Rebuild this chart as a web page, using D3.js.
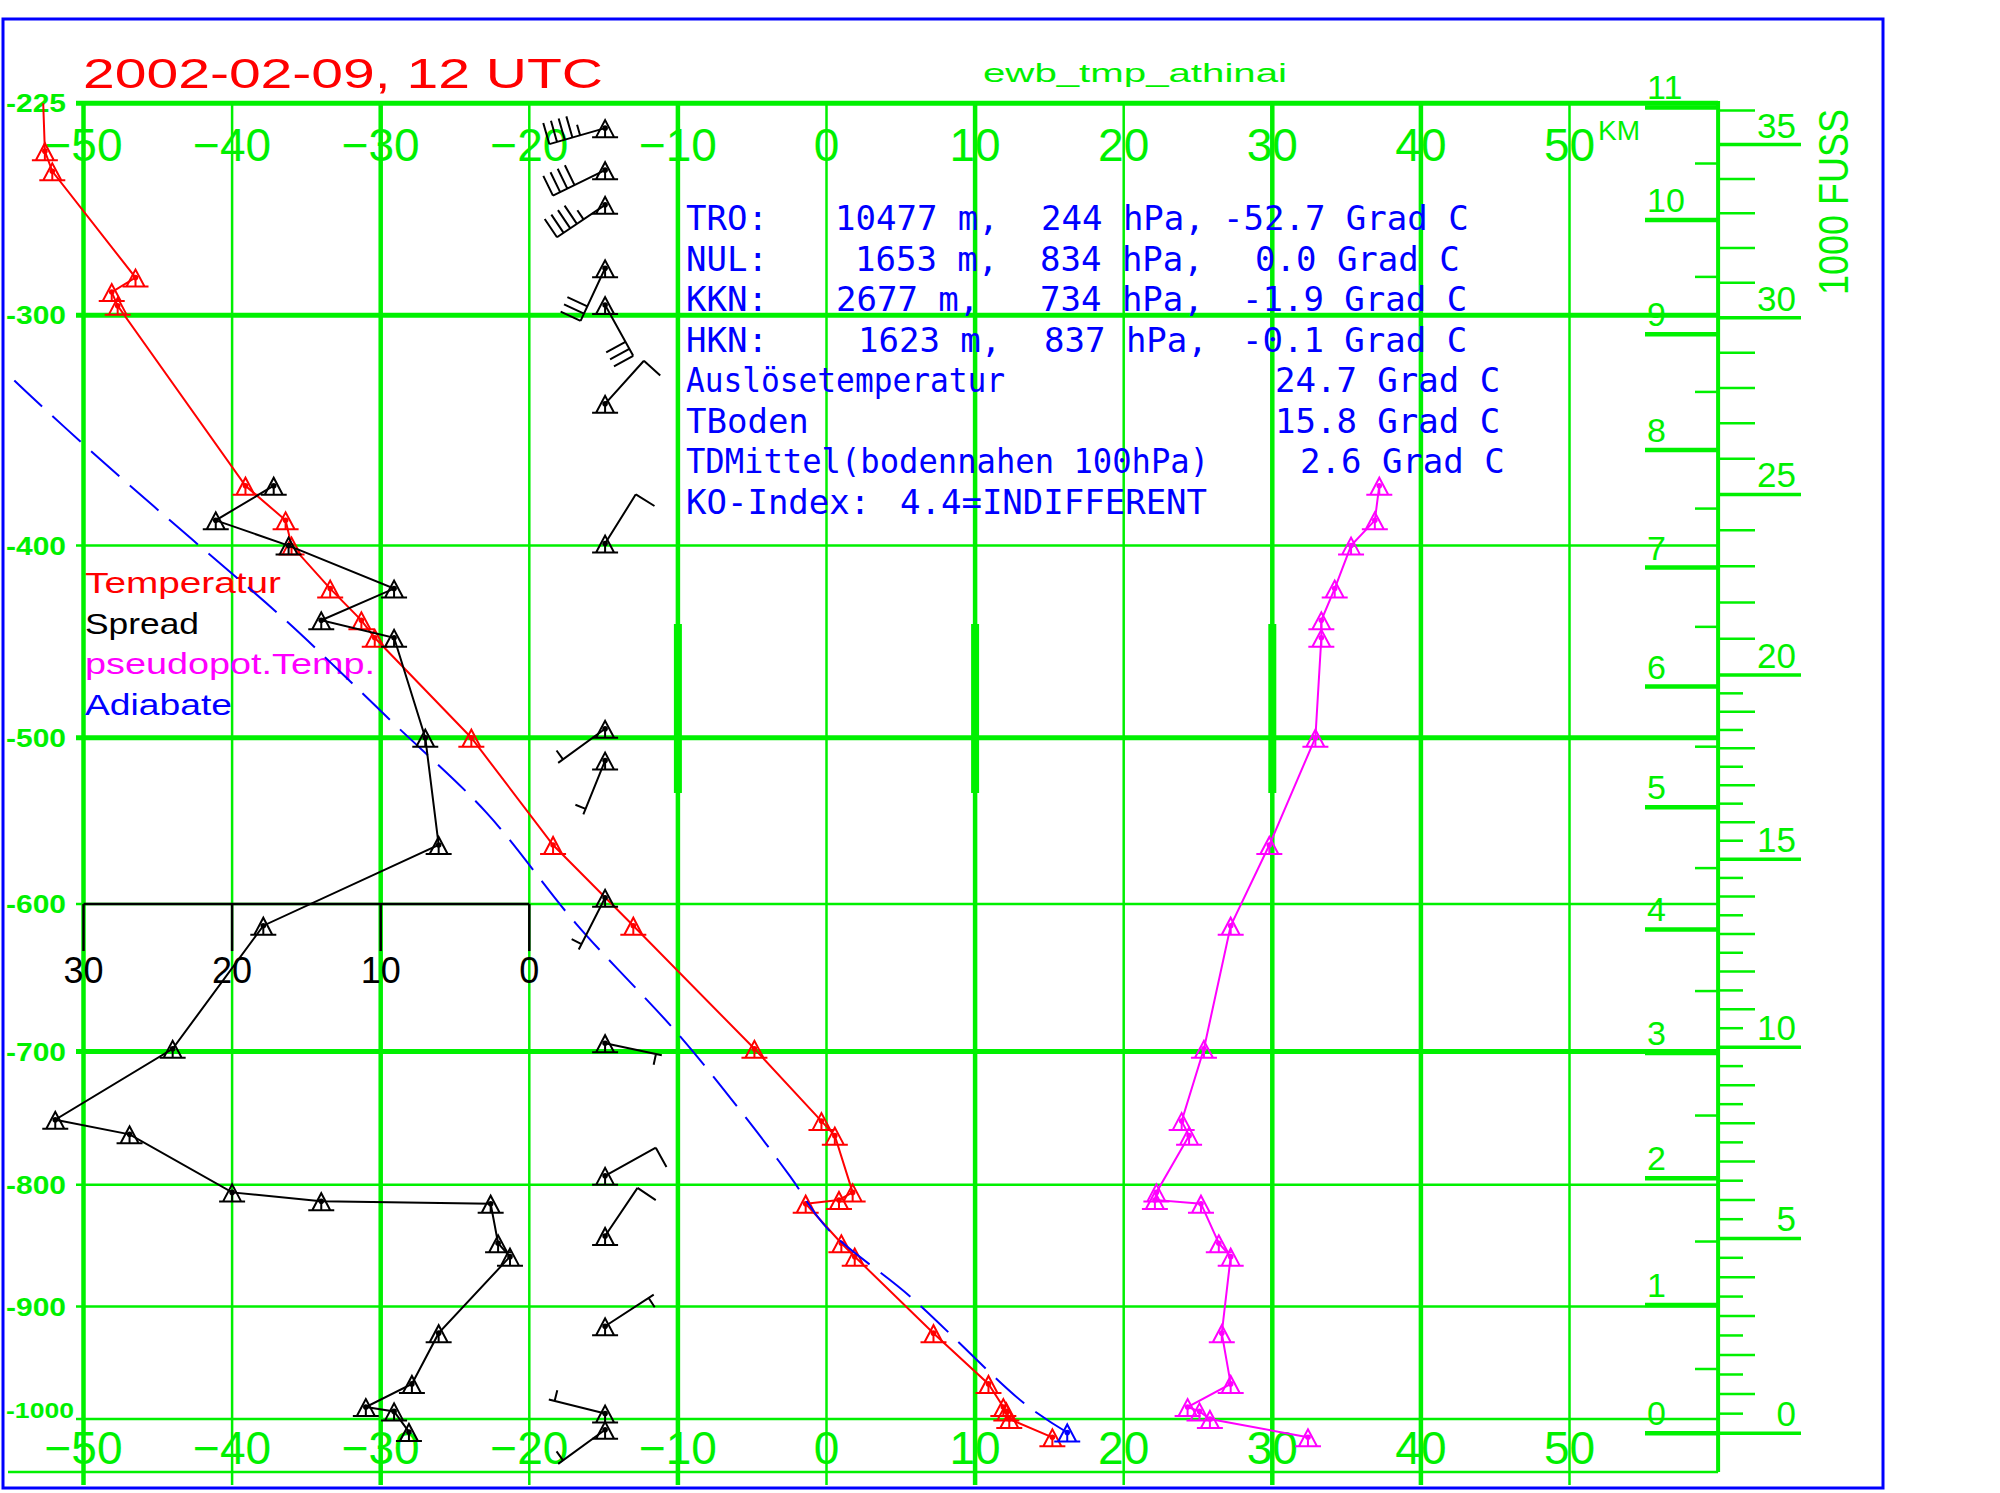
<!DOCTYPE html>
<html>
<head>
<meta charset="utf-8">
<script src="https://cdn.jsdelivr.net/npm/d3@7"></script>
<style>
  body { margin: 0; background: #fff; }
</style>
</head>
<body>
<div id="chart"></div>
<script>
const width = 2000;
const height = 1493;

// grid
const isobars = [225, 300, 400, 500, 600, 700, 800, 900, 1000];
const isotherms = [-50, -40, -30, -20, -10, 0, 10, 20, 30, 40, 50];
const spreadTicks = [30, 20, 10, 0];
const kmTicks = [0, 1, 2, 3, 4, 5, 6, 7, 8, 9, 10, 11];
const fussLabels = [0, 5, 10, 15, 20, 25, 30, 35];

// Temperatur (hPa, Grad C)
const tempP = [200, 240.6, 247.4, 285.5, 291, 296.3, 372, 388, 400, 421, 437, 446, 500, 563, 614, 698, 751, 762, 806, 812, 815, 847, 858, 923, 968, 989, 993, 1000, 1017];
const tempT = [-52.9, -52.6, -52.1, -46.5, -48.1, -47.7, -39.1, -36.4, -36.0, -33.4, -31.3, -30.4, -23.9, -18.4, -13.0, -4.85, -0.34, 0.56, 1.76, 0.84, -1.4, 1.0, 1.9, 7.2, 10.9, 11.9, 12.1, 12.3, 15.2];

// Spread (hPa, K)
const spreadP = [372, 388, 400, 421, 437, 446, 500, 563, 614, 698, 750, 761, 806, 813, 815, 847, 858, 923, 968, 989, 993, 1012];
const spreadS = [17.2, 21.1, 16.2, 9.1, 14.0, 9.1, 7.0, 6.1, 17.9, 24.0, 31.9, 26.9, 20.0, 14.0, 2.6, 2.1, 1.3, 6.1, 7.9, 11.0, 9.1, 8.1];

// pseudopot. Temp. (hPa, Grad C)
const thetaP = [372, 388, 400, 421, 437, 446, 500, 563, 614, 698, 751, 762, 806, 812, 815, 847, 858, 923, 968, 989, 993, 1000, 1017];
const thetaT = [37.2, 36.9, 35.3, 34.2, 33.3, 33.3, 32.9, 29.8, 27.2, 25.4, 23.9, 24.4, 22.2, 22.1, 25.2, 26.4, 27.2, 26.6, 27.2, 24.3, 25.1, 25.8, 32.4];

// Adiabate (hPa, Grad C)
const adiaP = [1012.5, 985.6, 891.9, 835.4, 793.2, 752.4, 688, 612.6, 543.3, 491.4, 437, 397, 360, 323, 310];
const adiaT = [16.2, 13.3, 5.67, 0.1, -2.46, -5.15, -9.95, -16.86, -22.9, -29.2, -36.4, -42.7, -48.9, -55.2, -57.3];

// wind (hPa, direction deg, kt)
const windP = [233, 247, 259, 282, 296, 336, 399, 495, 513, 596, 694, 793, 841, 917, 995, 1010];
const windDir = [254, 244, 236, 205, 151, 42, 32, 234, 202, 207, 102, 61, 34, 57, 284, 234];
const windKt = [45, 40, 45, 30, 30, 10, 10, 5, 5, 5, 5, 10, 10, 5, 5, 5];

// text block
const infoLabels = ["TRO:", "NUL:", "KKN:", "HKN:", "Auslösetemperatur", "TBoden", "TDMittel(bodennahen 100hPa)", "KO-Index:"];
const infoHeights = ["10477 m,", "1653 m,", "2677 m,", "1623 m,"];
const infoPress = ["244 hPa,", "834 hPa,", "734 hPa,", "837 hPa,"];
const infoValues = ["-52.7 Grad C", "0.0 Grad C", "-1.9 Grad C", "-0.1 Grad C", "24.7 Grad C", "15.8 Grad C", "2.6 Grad C", "4.4=INDIFFERENT"];
const legendNames = ["Temperatur", "Spread", "pseudopot.Temp.", "Adiabate"];

const GREEN = "#00f000";
const sans = "'Liberation Sans', Arial, sans-serif";
const mono = "'DejaVu Sans Mono', 'Liberation Mono', monospace";

const svg = d3.select("#chart").append("svg")
  .attr("width", width)
  .attr("height", height)
  .style("font-family", sans);

// scales: Stuve diagram, y linear in p^0.286
const x = d3.scaleLinear().domain([-50, 50]).range([83.5, 1569.5]);
const y = d3.scalePow().exponent(0.286).domain([225, 1000]).range([103.3, 1419]);
const xs = d3.scaleLinear().domain([0, 30]).range([x(-20), x(-50)]);
const xRight = x(60);
const gridBottom = 1472;
const isa = m => 1013.25 * Math.pow(1 - 2.25577e-5 * m, 5.25588);

// border
svg.append("rect")
  .attr("x", 3).attr("y", 19)
  .attr("width", 1880).attr("height", 1469)
  .attr("fill", "none")
  .attr("stroke", "#0000ff")
  .attr("stroke-width", 3);

const grid = svg.append("g").attr("stroke", GREEN);

// isobars
const boldP = [225, 300, 500, 700];
grid.selectAll(".isobar").data(isobars).enter().append("line")
  .attr("x1", 76).attr("x2", xRight)
  .attr("y1", d => y(d)).attr("y2", d => y(d))
  .attr("stroke-width", d => boldP.includes(d) ? 5 : 2.5);

// isotherms
const boldT = [-50, -30, -10, 10, 30, 40];
grid.selectAll(".isotherm").data(isotherms).enter().append("line")
  .attr("x1", d => x(d)).attr("x2", d => x(d))
  .attr("y1", y(225)).attr("y2", 1485)
  .attr("stroke-width", d => boldT.includes(d) ? 4.5 : 2.5);

// heavy marks on some isotherms
grid.selectAll(".heavy").data([-10, 10, 30]).enter().append("line")
  .attr("x1", d => x(d)).attr("x2", d => x(d))
  .attr("y1", 624).attr("y2", 793)
  .attr("stroke-width", 8);

// bottom line and right axis
grid.append("line").attr("x1", 8).attr("x2", xRight)
  .attr("y1", gridBottom).attr("y2", gridBottom).attr("stroke-width", 2.5);
grid.append("line").attr("x1", xRight).attr("x2", xRight)
  .attr("y1", 101).attr("y2", gridBottom).attr("stroke-width", 4);

// km ticks
grid.selectAll(".km").data(kmTicks).enter().append("line")
  .attr("x1", 1645).attr("x2", xRight)
  .attr("y1", d => y(isa(d * 1000))).attr("y2", d => y(isa(d * 1000)))
  .attr("stroke-width", 4.5);
grid.selectAll(".kmhalf").data(d3.range(0.5, 11, 1)).enter().append("line")
  .attr("x1", 1695).attr("x2", xRight)
  .attr("y1", d => y(isa(d * 1000))).attr("y2", d => y(isa(d * 1000)))
  .attr("stroke-width", 2.5);

// feet ticks
const ftSteps = d3.range(0, 20000, 500).concat(d3.range(20000, 36001, 1000));
grid.selectAll(".ft").data(ftSteps).enter().append("line")
  .attr("x1", xRight)
  .attr("x2", d => d % 5000 === 0 ? 1801 : (d % 1000 === 0 ? 1755 : 1743))
  .attr("y1", d => y(isa(d * 0.3048))).attr("y2", d => y(isa(d * 0.3048)))
  .attr("stroke-width", d => d % 5000 === 0 ? 3.5 : 2.5);

// green labels
const labels = svg.append("g").attr("fill", GREEN);

isobars.forEach(p => {
  labels.append("text")
    .attr("x", 6).attr("y", y(p) + (p >= 1000 ? -1 : 9))
    .attr("font-size", p >= 1000 ? 22 : 25)
    .attr("font-weight", "bold")
    .attr("textLength", p >= 1000 ? 68 : 60)
    .attr("lengthAdjust", "spacingAndGlyphs")
    .text("-" + p);
});

[161, 1464].forEach(base => {
  labels.selectAll(null).data(isotherms).enter().append("text")
    .attr("x", d => x(d)).attr("y", base)
    .attr("text-anchor", "middle")
    .attr("font-size", 46)
    .text(d => d < 0 ? "\u2212" + Math.abs(d) : d);
});

labels.selectAll(".kml").data(kmTicks).enter().append("text")
  .attr("x", 1647).attr("y", d => y(isa(d * 1000)) - 8)
  .attr("font-size", 34)
  .text(d => d);

labels.selectAll(".ftl").data(fussLabels).enter().append("text")
  .attr("x", 1796).attr("y", d => y(isa(d * 304.8)) - 7)
  .attr("text-anchor", "end")
  .attr("font-size", 35)
  .text(d => d);

labels.append("text").attr("x", 1598).attr("y", 140)
  .attr("font-size", 28).text("KM");

labels.append("text")
  .attr("transform", "translate(1848,202) rotate(-90)")
  .attr("text-anchor", "middle")
  .attr("font-size", 42)
  .attr("textLength", 186).attr("lengthAdjust", "spacingAndGlyphs")
  .text("1000 FUSS");

labels.append("text").attr("x", 983).attr("y", 82)
  .attr("font-size", 26)
  .attr("textLength", 304).attr("lengthAdjust", "spacingAndGlyphs")
  .text("ewb_tmp_athinai");

// title
svg.append("text").attr("x", 83).attr("y", 88)
  .attr("fill", "#ff0000")
  .attr("font-size", 43)
  .attr("textLength", 520).attr("lengthAdjust", "spacingAndGlyphs")
  .text("2002-02-09, 12 UTC");

// info block
const info = svg.append("g").attr("fill", "#0000ff")
  .style("font-family", mono).attr("font-size", 34);
const heightX = [835, 855, 836, 858];
const pressX = [1041, 1040, 1040, 1044];
const valueX = [1223, 1255, 1242, 1242, 1275, 1275, 1300, 900];
const labelLen = [null, null, null, null, 319, null, 523, null];
infoLabels.forEach((lab, i) => {
  const base = 230 + i * 40.5;
  info.append("text").attr("x", 686).attr("y", base)
    .attr("textLength", labelLen[i])
    .attr("lengthAdjust", "spacingAndGlyphs")
    .text(lab);
  if (i < 4) {
    info.append("text").attr("x", heightX[i]).attr("y", base).text(infoHeights[i]);
    info.append("text").attr("x", pressX[i]).attr("y", base).text(infoPress[i]);
  }
  info.append("text").attr("x", valueX[i]).attr("y", base).text(infoValues[i]);
});

// legend
const legendColors = ["#ff0000", "#000000", "#ff00ff", "#0000ff"];
const legendLen = [196, 114, 290, 147];
legendNames.forEach((name, i) => {
  svg.append("text")
    .attr("x", 85).attr("y", 593 + i * 40.5)
    .attr("fill", legendColors[i])
    .attr("font-size", 30)
    .attr("textLength", legendLen[i]).attr("lengthAdjust", "spacingAndGlyphs")
    .text(name);
});

// spread axis
const sAxis = svg.append("g").attr("stroke", "#000").attr("stroke-width", 2.5);
sAxis.append("line").attr("x1", xs(30)).attr("x2", xs(0))
  .attr("y1", y(600)).attr("y2", y(600));
sAxis.selectAll(".st").data(spreadTicks).enter().append("line")
  .attr("x1", d => xs(d)).attr("x2", d => xs(d))
  .attr("y1", y(600)).attr("y2", y(600) + 47);
svg.selectAll(".stl").data(spreadTicks).enter().append("text")
  .attr("x", d => xs(d)).attr("y", y(600) + 79)
  .attr("text-anchor", "middle")
  .attr("font-size", 36)
  .text(d => d);

// data
svg.append("clipPath").attr("id", "plotclip")
  .append("rect").attr("x", 5).attr("y", y(225))
  .attr("width", xRight - 5).attr("height", 1486 - y(225));
const plot = svg.append("g").attr("clip-path", "url(#plotclip)");

function marker(g, px, py, color) {
  const m = g.append("g").attr("transform", `translate(${px},${py})`)
    .attr("stroke", color).attr("stroke-width", 2).attr("fill", "none");
  m.append("path").attr("d", "M-9,9 L0,-8 L9,9 M-13,9 H13 M0,0 V9");
  m.append("circle").attr("r", 2.8).attr("fill", color).attr("stroke", "none");
}

function series(pArr, vArr, xf, color, dash, curve) {
  const pts = pArr.map((p, i) => [xf(vArr[i]), y(p)]);
  plot.append("path")
    .attr("d", d3.line().curve(curve || d3.curveLinear)(pts))
    .attr("fill", "none")
    .attr("stroke", color)
    .attr("stroke-width", 2)
    .attr("stroke-dasharray", dash || null);
  return pts;
}

const redPts = series(tempP, tempT, x, "#ff0000");
redPts.forEach(([px, py]) => marker(plot, px, py, "#ff0000"));

const bluePts = series(adiaP, adiaT, x, "#0000ff", "38,14", d3.curveCatmullRom);
marker(plot, bluePts[0][0], bluePts[0][1], "#0000ff");

const blackPts = series(spreadP, spreadS, xs, "#000000");
blackPts.forEach(([px, py]) => marker(plot, px, py, "#000000"));

const magPts = series(thetaP, thetaT, x, "#ff00ff");
magPts.forEach(([px, py]) => marker(plot, px, py, "#ff00ff"));

// wind barbs
const windX = x(-14.9);
const barbs = plot.append("g");
windP.forEach((p, i) => {
  const sx = windX, sy = y(p);
  marker(barbs, sx, sy, "#000000");
  const a = windDir[i] * Math.PI / 180;
  const ux = Math.sin(a), uy = -Math.cos(a);
  const fx = -uy, fy = ux;
  const L = 58;
  const tx = sx + ux * L, ty = sy + uy * L;
  let d = `M${sx},${sy} L${tx},${ty}`;
  const spd = windKt[i];
  let k = 0;
  const nFull = Math.floor(spd / 10);
  const half = (spd % 10) >= 5;
  for (let j = 0; j < nFull; j++) {
    const bx = tx - ux * 8 * k, by = ty - uy * 8 * k;
    d += ` M${bx},${by} l${fx * 22},${fy * 22}`;
    k++;
  }
  if (half) {
    const off = nFull === 0 ? 6 : 8 * k;
    const bx = tx - ux * off, by = ty - uy * off;
    d += ` M${bx},${by} l${fx * 11},${fy * 11}`;
  }
  barbs.append("path").attr("d", d)
    .attr("fill", "none").attr("stroke", "#000").attr("stroke-width", 2);
});
</script>
</body>
</html>
